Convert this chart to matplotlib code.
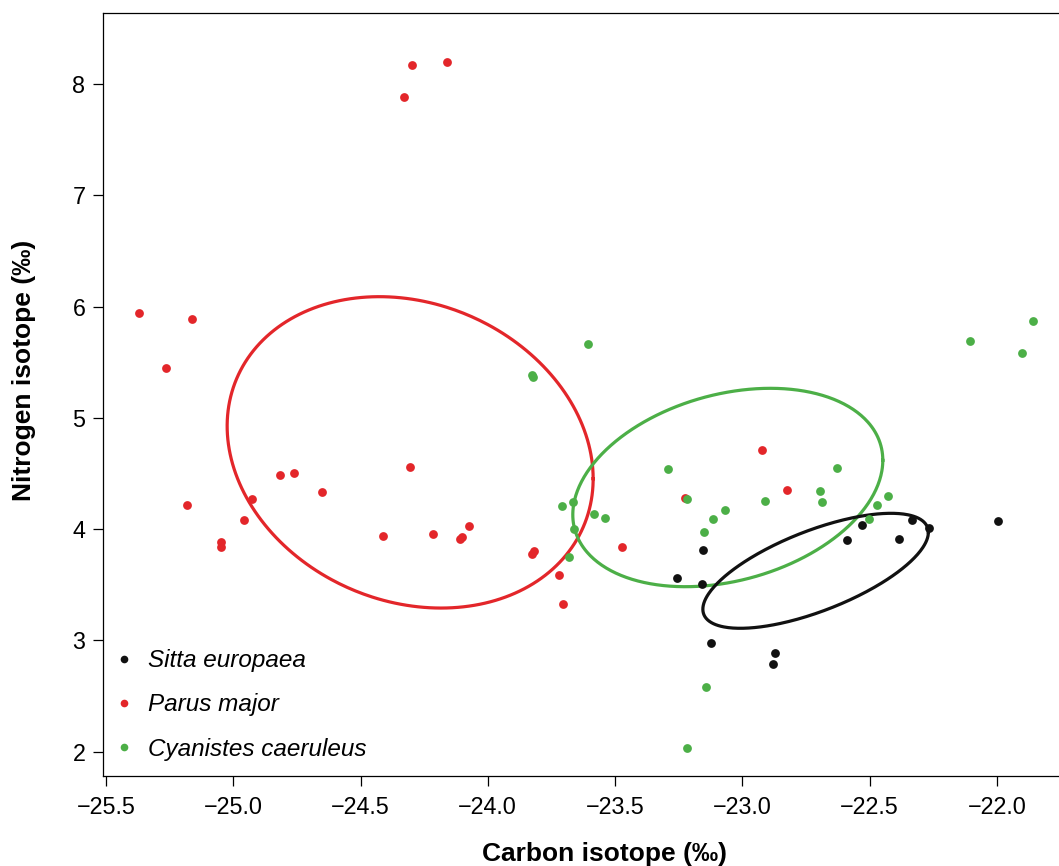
import numpy as np
import matplotlib.pyplot as plt
from matplotlib.lines import Line2D

plt.rcParams['font.family'] = ['Liberation Sans', 'DejaVu Sans']

# Sitta europaea (black)
sitta_c = [-23.153, -23.258, -23.159, -22.531, -22.590, -22.334, -22.266, -22.383,
           -21.994, -23.123, -22.870, -22.878]
sitta_n = [3.812, 3.563, 3.504, 4.040, 3.902, 4.085, 4.010, 3.914,
           4.076, 2.973, 2.888, 2.787]

# Parus major (red)
parus_c = [-25.370, -25.162, -25.264, -25.182, -25.048, -25.048, -24.958, -24.926,
           -24.816, -24.761, -24.651, -24.410, -24.305, -24.215, -24.109, -24.101,
           -24.074, -24.329, -24.299, -24.159, -23.825, -23.817, -23.719, -23.706,
           -23.471, -23.225, -22.921, -22.825]
parus_n = [5.943, 5.890, 5.450, 4.220, 3.885, 3.840, 4.080, 4.270,
           4.490, 4.500, 4.330, 3.940, 4.560, 3.960, 3.910, 3.930,
           4.030, 7.886, 8.171, 8.198, 3.776, 3.806, 3.585, 3.324,
           3.839, 4.277, 4.711, 4.349]

# Cyanistes caeruleus (green)
cyan_c = [-21.859, -22.106, -21.902, -23.290, -22.629, -23.218, -22.911, -22.694,
          -22.687, -22.427, -22.472, -22.501, -23.068, -23.115, -23.149, -23.144,
          -23.218, -23.606, -23.827, -23.824, -23.708, -23.664, -23.661, -23.583,
          -23.541, -23.681]
cyan_n = [5.869, 5.689, 5.581, 4.541, 4.547, 4.268, 4.253, 4.340,
          4.244, 4.300, 4.214, 4.091, 4.169, 4.088, 3.974, 2.580,
          2.029, 5.662, 5.385, 5.365, 4.211, 4.241, 4.004, 4.133,
          4.103, 3.746]

# ellipse parameters: centre, sd along x, sd along y, covariance
sitta_ell = [-22.712, 3.625, 0.443, 0.517, 0.153]
parus_ell = [-24.305, 4.690, 0.719, 1.400, -0.170]
cyan_ell = [-23.057, 4.374, 0.609, 0.892, 0.149]

black = '#111111'
red = '#e3262a'
green = '#4caf47'


def ellipse_xy(p, n=400):
    cx, cy, sx, sy, sxy = p
    cov = np.array([[sx ** 2, sxy], [sxy, sy ** 2]])
    L = np.linalg.cholesky(cov)
    t = np.linspace(0, 2 * np.pi, n)
    pts = L @ np.vstack([np.cos(t), np.sin(t)])
    return cx + pts[0], cy + pts[1]


fig = plt.figure(figsize=(10.59, 8.66), dpi=100)
ax = fig.add_axes([103 / 1059, 90 / 866, 974 / 1059, 763 / 866])

for p, col in [(parus_ell, red), (cyan_ell, green), (sitta_ell, black)]:
    ex, ey = ellipse_xy(p)
    ax.plot(ex, ey, color=col, lw=2.3, zorder=2)

ax.scatter(sitta_c, sitta_n, s=40, color=black, lw=0, zorder=3)
ax.scatter(parus_c, parus_n, s=40, color=red, lw=0, zorder=3)
ax.scatter(cyan_c, cyan_n, s=40, color=green, lw=0, zorder=3)

ax.set_xlim(-25.5118, -21.685)
ax.set_ylim(1.7797, 8.641)
ax.set_xticks([-25.5, -25.0, -24.5, -24.0, -23.5, -23.0, -22.5, -22.0])
ax.set_xticklabels(['\u221225.5', '\u221225.0', '\u221224.5', '\u221224.0',
                    '\u221223.5', '\u221223.0', '\u221222.5', '\u221222.0'])
ax.set_yticks([2, 3, 4, 5, 6, 7, 8])
ax.tick_params(axis='both', direction='out', length=7.2, width=0.9, labelsize=16.8)
ax.tick_params(axis='x', pad=7)
ax.tick_params(axis='y', pad=5.5)
for s in ax.spines.values():
    s.set_linewidth(0.9)
ax.spines['right'].set_visible(False)

ax.set_xlabel('Carbon isotope (‰)', fontsize=19, fontweight='bold')
ax.set_ylabel('Nitrogen isotope (‰)', fontsize=19, fontweight='bold')
ax.xaxis.set_label_coords((604 - 103) / 974, -(842 - 776) / 763)
ax.yaxis.set_label_coords((36 - 103) / 974, (776 - 370) / 763)

handles = [Line2D([], [], ls='', marker='o', ms=5.5, color=c, mew=0) for c in (black, red, green)]
leg = ax.legend(handles, ['Sitta europaea', 'Parus major', 'Cyanistes caeruleus'],
                loc='center left', bbox_to_anchor=((112.3 - 103) / 974, (776 - 705) / 763),
                frameon=False, handlelength=1.0, handletextpad=0.45, labelspacing=0.88,
                borderpad=0, borderaxespad=0, prop={'size': 17.5, 'style': 'italic'})

fig.savefig('out.png', dpi=100)
